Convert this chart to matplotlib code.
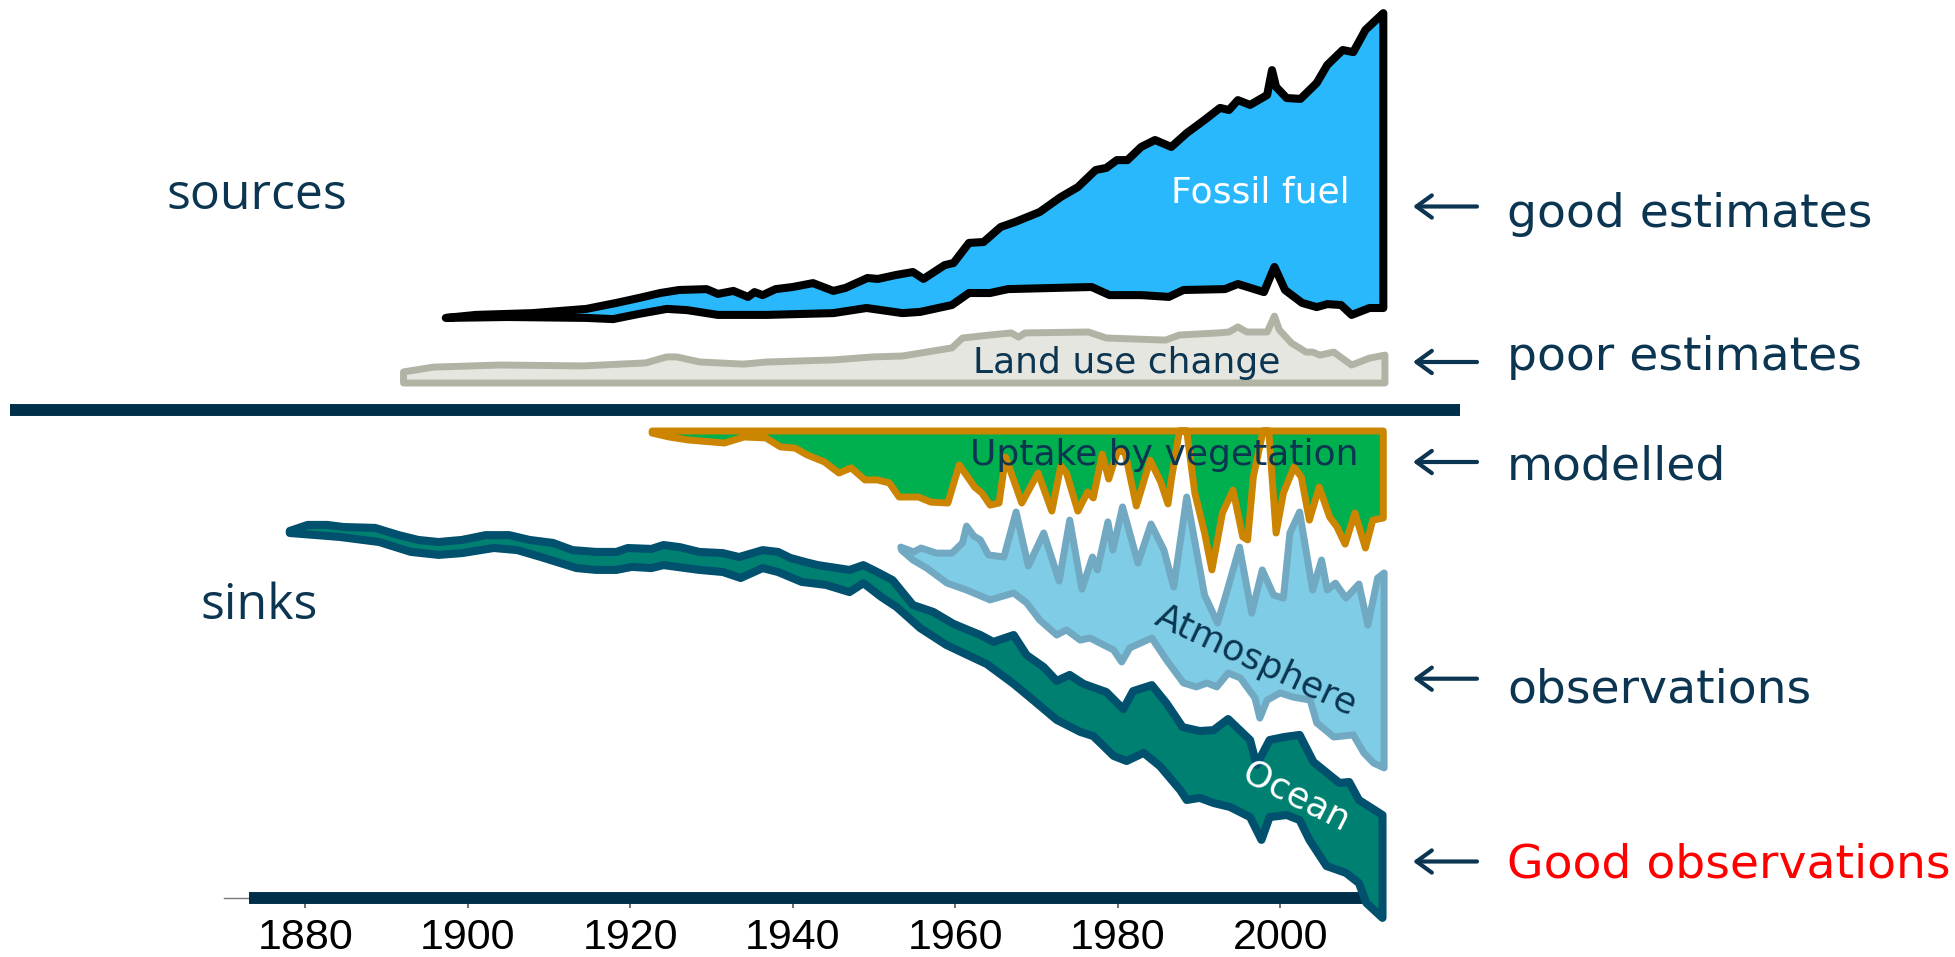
import numpy as np
import matplotlib
matplotlib.use("Agg")
import matplotlib.pyplot as plt

# ---------------- data (GtC/yr, sources positive, sinks negative) ----------------
ff_top_years = [1897.3, 1901, 1908, 1914.6, 1918.3, 1921, 1923.7, 1926, 1929.4, 1930.8,
                1932.7, 1934.5, 1935.3, 1936.3, 1937.9, 1940, 1942.5, 1945, 1946.5, 1949.2,
                1950.5, 1952.7, 1954.8, 1956.1, 1958.7, 1959.8, 1961.7, 1963.5, 1965.6, 1967.4,
                1970.4, 1973.0, 1975.1, 1977.3, 1978.6, 1979.9, 1981.2, 1982.9, 1984.6, 1986.6,
                1988.5, 1990.7, 1992.6, 1993.7, 1994.8, 1996.3, 1998.4, 1999.0, 1999.5, 2000.8,
                2002.5, 2004.5, 2005.8, 2007.7, 2009.0, 2010.5, 2012.7]
ff_top = [3.07, 3.17, 3.23, 3.37, 3.57, 3.73, 3.90, 4.00, 4.03, 3.87,
          3.97, 3.77, 3.93, 3.83, 4.03, 4.10, 4.23, 3.97, 4.07, 4.40,
          4.37, 4.50, 4.60, 4.37, 4.83, 4.90, 5.57, 5.60, 6.10, 6.27,
          6.60, 7.10, 7.43, 8.00, 8.07, 8.33, 8.33, 8.77, 9.00, 8.77,
          9.23, 9.67, 10.07, 10.00, 10.33, 10.17, 10.50, 11.33, 10.77, 10.40,
          10.37, 10.90, 11.50, 12.00, 11.93, 12.67, 13.23]
ff_bot_years = [1897.3, 1905, 1914.6, 1917.9, 1921, 1924.5, 1927, 1930.8, 1936.8, 1945,
                1949.1, 1953.5, 1955.7, 1959.6, 1961.7, 1964.3, 1966.5, 1976.8, 1979.0, 1982.9,
                1986.3, 1988.1, 1993.2, 1994.8, 1998.0, 1999.3, 2000.6, 2002.7, 2004.5, 2005.8,
                2007.5, 2008.8, 2011.0, 2012.7]
ff_bot = [3.07, 3.10, 3.07, 3.03, 3.20, 3.37, 3.33, 3.17, 3.17, 3.23,
          3.40, 3.23, 3.27, 3.50, 3.90, 3.90, 4.03, 4.10, 3.83, 3.83,
          3.77, 4.00, 4.03, 4.20, 3.93, 4.77, 4.00, 3.57, 3.43, 3.53,
          3.50, 3.17, 3.40, 3.40]

luc_years = [1892.1, 1895.8, 1904, 1914.2, 1921.9, 1924.5, 1925.7, 1928.6, 1933.9, 1936.8,
             1945, 1949.9, 1953.5, 1959.6, 1960.9, 1964.3, 1966.9, 1967.8, 1968.6, 1976.4,
             1978.6, 1985.9, 1987.6, 1992.4, 1993.7, 1994.8, 1995.9, 1998.4, 1999.3, 1999.9,
             2001.4, 2003.2, 2004.0, 2004.9, 2006.6, 2008.8, 2011.0, 2012.9]
luc_top = [1.27, 1.43, 1.50, 1.47, 1.57, 1.77, 1.77, 1.60, 1.53, 1.60,
           1.67, 1.77, 1.80, 2.07, 2.40, 2.50, 2.57, 2.43, 2.57, 2.60,
           2.40, 2.33, 2.50, 2.57, 2.60, 2.77, 2.60, 2.60, 3.13, 2.67,
           2.23, 1.93, 1.93, 1.83, 1.93, 1.50, 1.73, 1.83]
luc_base = 0.90

veg_top = -0.70
veg_years = [1922.7, 1924.8, 1927.2, 1931.6, 1934.0, 1936.7, 1938.5, 1940.3, 1941.8, 1943.9,
             1945.7, 1947.2, 1948.9, 1950.4, 1951.9, 1953.1, 1955.5, 1957.0, 1959.1, 1960.5,
             1962.4, 1963.3, 1964.3, 1965.4, 1966.2, 1968.2, 1970.2, 1971.9, 1973.0, 1973.7,
             1975.1, 1976.3, 1977.0, 1978.1, 1978.9, 1980.0, 1980.9, 1982.3, 1984.0, 1985.3,
             1986.2, 1986.6, 1987.6, 1988.5, 1989.5, 1990.7, 1991.6, 1992.9, 1994.2, 1995.4,
             1996.0, 1996.7, 1997.9, 1998.6, 1999.5, 2000.4, 2001.7, 2002.6, 2003.6, 2004.8,
             2006.1, 2007.0, 2008.0, 2009.2, 2010.5, 2011.4, 2012.7]
veg_bot = [-0.77, -0.90, -1.00, -1.10, -0.90, -0.93, -1.23, -1.27, -1.50, -1.73,
           -2.10, -1.93, -2.33, -2.33, -2.43, -2.90, -2.90, -3.07, -3.10, -1.83,
           -2.57, -2.77, -3.17, -3.10, -1.57, -3.10, -2.10, -3.37, -1.87, -2.10,
           -3.37, -2.73, -2.93, -1.47, -2.30, -1.37, -1.40, -3.20, -1.67, -2.40,
           -3.13, -2.33, -0.70, -0.70, -2.77, -4.10, -5.33, -3.43, -2.67, -4.23,
           -4.33, -2.23, -0.70, -0.70, -4.10, -2.77, -1.90, -2.23, -3.67, -2.57,
           -3.57, -3.90, -4.47, -3.43, -4.60, -3.67, -3.60]

atm_top_years = [1953.3, 1954.9, 1955.8, 1957.7, 1959.6, 1960.9, 1961.4, 1962.3, 1963.1, 1964.1,
                 1966.0, 1967.5, 1969.0, 1970.9, 1972.8, 1974.1, 1975.6, 1976.9, 1977.5, 1978.8,
                 1979.4, 1980.6, 1982.5, 1984.1, 1985.7, 1986.9, 1988.5, 1990.7, 1992.3, 1993.5,
                 1995.0, 1996.5, 1997.8, 1999.2, 2000.4, 2001.2, 2002.4, 2004.0, 2005.1, 2005.8,
                 2006.8, 2008.1, 2009.7, 2010.8, 2012.0, 2012.8]
atm_top = [-4.57, -4.73, -4.60, -4.77, -4.77, -4.43, -3.87, -4.20, -4.33, -4.83,
           -4.90, -3.40, -5.20, -4.10, -5.70, -3.67, -5.97, -4.90, -5.33, -3.73,
           -4.67, -3.23, -5.10, -3.80, -4.67, -5.90, -2.90, -6.17, -7.10, -6.00,
           -4.57, -6.77, -5.33, -6.17, -6.27, -4.10, -3.40, -6.00, -5.00, -6.00,
           -5.77, -6.27, -5.80, -7.17, -5.60, -5.43]
atm_bot_years = [1953.4, 1954.8, 1956.5, 1959.0, 1961.4, 1964.3, 1967.2, 1968.8, 1970.4, 1972.5,
                 1973.7, 1975.4, 1976.6, 1979.5, 1980.5, 1981.5, 1984.2, 1986.0, 1988.1, 1989.7,
                 1991.0, 1992.2, 1993.6, 1995.1, 1996.9, 1997.5, 1998.4, 2000.0, 2001.6, 2003.7,
                 2004.5, 2006.6, 2009.0, 2010.3, 2011.5, 2012.8]
atm_bot = [-4.67, -5.00, -5.27, -5.77, -6.00, -6.33, -6.10, -6.43, -7.00, -7.50,
           -7.33, -7.67, -7.60, -8.00, -8.40, -7.93, -7.60, -8.33, -9.10, -9.23,
           -9.10, -9.23, -8.77, -8.93, -9.60, -10.27, -9.67, -9.43, -9.57, -9.67,
           -10.43, -10.90, -10.83, -11.43, -11.77, -11.93]

ocn_top_years = [1878.1, 1880.3, 1882.7, 1884.7, 1888.6, 1891.5, 1893.9, 1896.4, 1899.3, 1902.2,
                 1905.1, 1907.6, 1910.5, 1912.9, 1915.8, 1918.3, 1919.7, 1922.6, 1924.1, 1926.1,
                 1928.5, 1931.4, 1933.4, 1936.3, 1938.2, 1939.7, 1941.6, 1943.1, 1947.0, 1948.7,
                 1950.4, 1952.3, 1954.8, 1957.3, 1959.8, 1963.1, 1964.7, 1967.2, 1968.8, 1970.9,
                 1972.5, 1974.1, 1975.8, 1978.6, 1980.7, 1981.9, 1984.2, 1986.0, 1988.0, 1990.1,
                 1991.8, 1993.6, 1996.3, 1997.1, 1998.7, 2000.5, 2002.4, 2004.1, 2007.3, 2008.5,
                 2009.7, 2012.6]
ocn_top = [-4.03, -3.83, -3.83, -3.90, -3.93, -4.17, -4.33, -4.40, -4.33, -4.17,
           -4.17, -4.33, -4.43, -4.67, -4.73, -4.73, -4.60, -4.63, -4.50, -4.57,
           -4.73, -4.77, -4.90, -4.67, -4.73, -4.93, -5.07, -5.17, -5.33, -5.17,
           -5.40, -5.67, -6.50, -6.73, -7.13, -7.50, -7.73, -7.50, -8.17, -8.57,
           -9.03, -8.83, -9.13, -9.40, -9.97, -9.37, -9.17, -9.77, -10.57, -10.70,
           -10.67, -10.30, -11.00, -11.83, -11.00, -10.90, -10.83, -11.73, -12.43, -12.40,
           -13.00, -13.50]
ocn_bot_years = [1878.1, 1884.2, 1889.1, 1893.0, 1896.4, 1899.3, 1903.2, 1906.1, 1909.0, 1913.4,
                 1915.8, 1918.3, 1920.2, 1922.6, 1924.1, 1928.5, 1931.4, 1933.6, 1936.3, 1938.2,
                 1941.1, 1944.1, 1947.0, 1948.7, 1950.9, 1952.8, 1955.7, 1958.9, 1961.0, 1963.9,
                 1967.2, 1969.6, 1972.5, 1975.4, 1977.0, 1979.5, 1981.1, 1983.2, 1985.2, 1987.7,
                 1988.5, 1990.1, 1991.8, 1993.8, 1996.3, 1997.7, 1998.7, 2000.8, 2002.4, 2003.6,
                 2005.7, 2008.1, 2009.7, 2010.6, 2012.6]
ocn_bot = [-4.10, -4.23, -4.40, -4.73, -4.83, -4.77, -4.60, -4.67, -4.90, -5.27,
           -5.33, -5.33, -5.23, -5.27, -5.17, -5.33, -5.40, -5.60, -5.27, -5.40,
           -5.73, -5.83, -6.07, -5.77, -6.23, -6.57, -7.27, -7.83, -8.10, -8.47,
           -9.13, -9.67, -10.33, -10.73, -10.87, -11.53, -11.70, -11.43, -11.87, -12.67,
           -13.00, -12.93, -13.10, -13.23, -13.57, -14.33, -13.57, -13.50, -13.67, -14.33,
           -15.20, -15.43, -15.77, -16.43, -16.93]

tick_years = [1880, 1900, 1920, 1940, 1960, 1980, 2000]
tick_labels = [str(t) for t in tick_years]

# ---------------- styling ----------------
W, H = 1956, 957
NAVY = "#0b3550"
BAR = "#003049"

fig = plt.figure(figsize=(W / 100, H / 100), dpi=100)
ax = fig.add_axes([0, 0, 1, 1])
ax.set_xlim(1842.43, 2083.19)
ax.set_ylim(-18.233, 13.667)
ax.patch.set_alpha(0)


def band(tx, ty, bx, by, fc, ec, lw, z):
    xs = np.concatenate([np.asarray(tx, float), np.asarray(bx, float)[::-1]])
    ys = np.concatenate([np.asarray(ty, float), np.asarray(by, float)[::-1]])
    p = ax.fill(xs, ys, facecolor=fc, edgecolor=ec, linewidth=lw, zorder=z)[0]
    p.set_joinstyle("round")
    p.set_capstyle("round")
    return p


# sources
band(ff_top_years, ff_top, ff_bot_years, ff_bot, "#29b8fc", "black", 5.8, 5)
band(luc_years, luc_top, [luc_years[0], luc_years[-1]], [luc_base, luc_base],
     "#e6e6e1", "#b1b4a5", 5.0, 5)

# sinks
band(atm_top_years, atm_top, atm_bot_years, atm_bot, "#7ecce5", "#70a9c1", 5.0, 5)
band([veg_years[0], veg_years[-1]], [veg_top, veg_top], veg_years, veg_bot,
     "#00b04f", "#cc8500", 5.0, 6)
band(ocn_top_years, ocn_top, ocn_bot_years, ocn_bot, "#008070", "#00506e", 5.8, 7)

# separator bars
ax.plot([1843.67, 2022.1], [0.0, 0.0], color=BAR, lw=8.6, solid_capstyle="butt", zorder=4)
ax.plot([1873.1, 2011.0], [-16.25, -16.25], color=BAR, lw=8.6, solid_capstyle="butt", zorder=4)

# x axis at the bottom bar
for s in ("left", "right", "top"):
    ax.spines[s].set_visible(False)
ax.spines["bottom"].set_position(("data", -16.25))
ax.spines["bottom"].set_bounds(1870, 2000)
ax.spines["bottom"].set_color("#777777")
ax.spines["bottom"].set_linewidth(1.0)
ax.set_yticks([])
ax.set_xticks(tick_years)
ax.set_xticklabels(tick_labels, fontsize=31, family="Liberation Sans")
ax.tick_params(axis="x", direction="out", length=7.5, width=1.2, color="#555555",
               pad=7, labelcolor="black")


def P(x, y):
    return (x / W, 1 - y / H)


# band labels
ax.text(*P(1171, 202), "Fossil fuel", transform=fig.transFigure, color="white",
        fontsize=26, family="DejaVu Sans", zorder=10)
ax.text(*P(973, 373), "Land use change", transform=fig.transFigure, color=NAVY,
        fontsize=26, family="DejaVu Sans", zorder=10)
ax.text(*P(970, 465), "Uptake by vegetation", transform=fig.transFigure, color=NAVY,
        fontsize=26, family="DejaVu Sans", zorder=10)
ax.text(*P(1252, 670), "Atmosphere", transform=fig.transFigure, color=NAVY,
        fontsize=26, family="DejaVu Sans", rotation=-25, rotation_mode="anchor",
        ha="center", va="baseline", zorder=10)
ax.text(*P(1292, 806), "Ocean", transform=fig.transFigure, color="white",
        fontsize=26, family="DejaVu Sans", rotation=-27, rotation_mode="anchor",
        ha="center", va="baseline", zorder=10)

# group labels
ax.text(*P(166, 209), "sources", transform=fig.transFigure, color=NAVY,
        fontsize=36, family="Open Sans")
ax.text(*P(200, 619), "sinks", transform=fig.transFigure, color=NAVY,
        fontsize=36, family="Open Sans")

# right-hand annotations
notes = [("good estimates", 226.6, 206.5, NAVY),
         ("poor estimates", 370, 362, NAVY),
         ("modelled", 480, 462, NAVY),
         ("observations", 702.6, 678.7, NAVY),
         ("Good observations", 877, 861.5, "#ff0000")]
for txt, yb, ya, col in notes:
    ax.text(*P(1507, yb), txt, transform=fig.transFigure, color=col,
            fontsize=34, family="DejaVu Sans")
    ax.annotate("", xy=P(1413, ya), xycoords="figure fraction",
                xytext=P(1477, ya), textcoords="figure fraction",
                arrowprops=dict(arrowstyle="->,head_length=0.55,head_width=0.4",
                                lw=3.0, color=NAVY, mutation_scale=20,
                                shrinkA=0, shrinkB=0))

fig.savefig("out.png", dpi=100)
